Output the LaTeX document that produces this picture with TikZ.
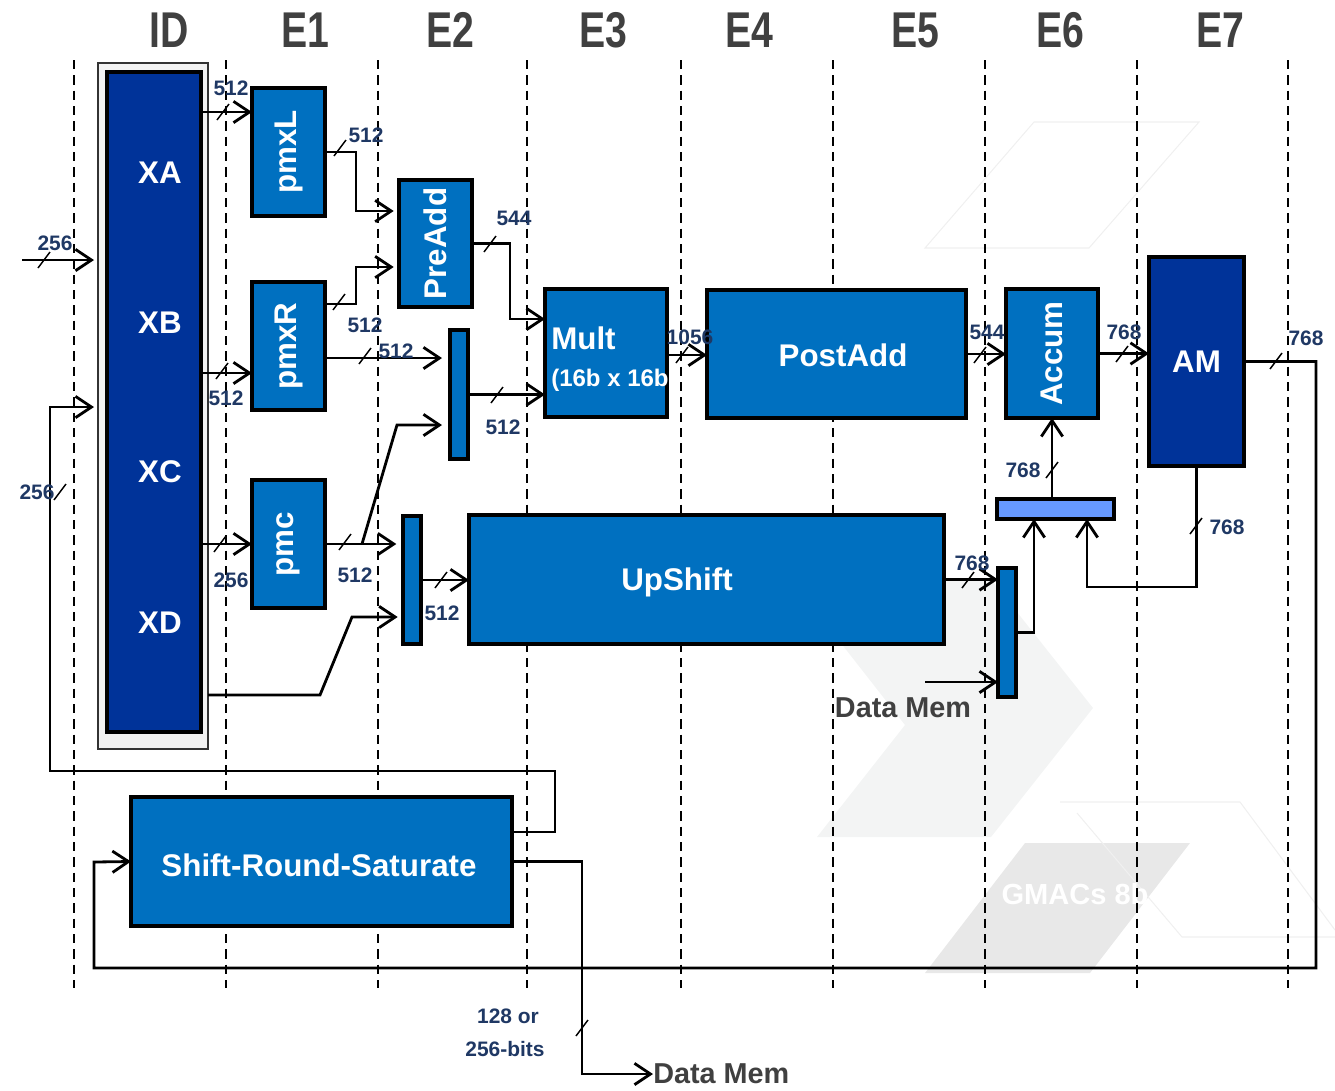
\documentclass[tikz,border=0pt]{standalone}
\usepackage{fontspec}
\setmainfont{Liberation Sans}
\newfontfamily\hdrfont{Liberation Sans}[FakeStretch=0.78]
\usetikzlibrary{arrows.meta}
\definecolor{unitblue}{HTML}{0070C0}
\definecolor{regblue}{HTML}{003399}
\definecolor{sumblue}{HTML}{6699FF}
\definecolor{widthnavy}{HTML}{1F3864}
\definecolor{capgray}{HTML}{404040}
\definecolor{markgray}{HTML}{F3F4F4}
\definecolor{markdark}{HTML}{E8E8E8}
\begin{document}
\begin{tikzpicture}[x=0.75pt,y=-0.75pt,
		stagesep/.style={dash pattern=on 7pt off 4.5pt,line width=1.4pt},
		sz/.style 2 args={minimum width=#1*0.75pt,minimum height=#2*0.75pt},
		unit/.style={draw=black,line width=2.3pt,fill=unitblue,text=white,inner sep=0pt,outer sep=0pt,font=\bfseries\fontsize{23.5}{26}\selectfont},
		bus/.style={line width=2.1pt,-{Straight Barb[length=12pt,width=16pt]}},
		busmark/.style={line width=1.1pt},
		buswd/.style={text=widthnavy,inner sep=0pt,font=\bfseries\fontsize{15.7}{17}\selectfont},
		stage/.style={text=capgray,inner sep=0pt,font=\hdrfont\bfseries\fontsize{37.7}{40}\selectfont},
		memlbl/.style={text=capgray,inner sep=0pt,font=\bfseries\fontsize{21.6}{24}\selectfont},
		reglbl/.style={text=white,inner sep=0pt,font=\bfseries\fontsize{23.5}{26}\selectfont},
		markline/.style={draw=gray!12,line width=0.8pt}]
	\useasboundingbox (0,0) rectangle (1335,1090);
	% faint watermark behind the pipeline
	\fill[markgray] (817,837) -- (991,837) -- (1093,708) -- (990,578) -- (790,578) -- (905,725) -- cycle;
	\fill[markdark] (925,973) -- (1090,973) -- (1190,843) -- (1025,843) -- cycle;
	\draw[markline] (1034,122) -- (1199,122) -- (1089,248) -- (925,248) -- cycle;
	\draw[markline] (1060,802) -- (1240,802) -- (1335,930);
	\draw[markline] (1077,813) -- (1182,937) -- (1335,937);
	\node[text=white,inner sep=0pt,font=\bfseries\fontsize{21.8}{24}\selectfont] (wmark) at (1075,894) {GMACs 8b};
	% pipeline stages
	\foreach \x in {74,226,378,527,681,833,985,1137,1288}
		\draw[stagesep] (\x,60) -- (\x,988);
	\node[stage] (sID) at (169,30) {ID};
	\node[stage] (sE1) at (305,30) {E1};
	\node[stage] (sE2) at (450,30) {E2};
	\node[stage] (sE3) at (603,30) {E3};
	\node[stage] (sE4) at (749,30) {E4};
	\node[stage] (sE5) at (915,30) {E5};
	\node[stage] (sE6) at (1060,30) {E6};
	\node[stage] (sE7) at (1220,30) {E7};
	% register file
	\node[draw=black!80,line width=1pt,fill=black!5,sz={110}{686},inner sep=0pt,outer sep=0pt] (idreg) at (153,406) {};
	\node[unit,fill=regblue,sz={94}{660}] (idbank) at (154,402) {};
	\node[reglbl] (tXA) at (160,173) {XA};
	\node[reglbl] (tXB) at (160,323) {XB};
	\node[reglbl] (tXC) at (160,472) {XC};
	\node[reglbl] (tXD) at (160,623) {XD};
	% units
	\node[unit,sz={73}{128}] (pmxL) at (288.5,152) {\rotatebox{90}{pmxL}};
	\node[unit,sz={73}{128}] (pmxR) at (288.5,346) {\rotatebox{90}{pmxR}};
	\node[unit,sz={73}{128}] (pmc) at (288.5,544) {\rotatebox{90}{pmc}};
	\node[unit,sz={73}{127}] (preadd) at (435.5,243.5) {\rotatebox{90}{PreAdd}};
	\node[unit,sz={18}{129}] (muxa) at (459,394.5) {};
	\node[unit,sz={122}{128}] (mult) at (606,353) {};
	\node[reglbl,anchor=west] (tMult) at (551,338) {Mult};
	\node[reglbl,anchor=west,font=\bfseries\fontsize{18}{20}\selectfont] (tMultB) at (551,380) {(16b x 16b};
	\node[unit,sz={259}{128}] (postadd) at (836.5,354) {};
	\node[reglbl] (tPost) at (843,355) {PostAdd};
	\node[unit,sz={92}{129}] (accum) at (1052,353.5) {\rotatebox{90}{Accum}};
	\node[unit,fill=regblue,sz={95}{209}] (am) at (1196.5,361.5) {AM};
	\node[unit,fill=sumblue,sz={117}{20}] (adder) at (1055.5,509) {};
	\node[unit,sz={18}{128}] (muxb) at (412,580) {};
	\node[unit,sz={475}{129}] (upshift) at (706.5,579.5) {};
	\node[reglbl] (tUp) at (677,582) {UpShift};
	\node[unit,sz={18}{129}] (muxc) at (1007,632.5) {};
	\node[unit,sz={381}{129}] (srs) at (321.5,861.5) {};
	\node[reglbl] (tSrs) at (319,865) {Shift-Round-Saturate};
	\node[memlbl] (dmin) at (903,708) {Data Mem};
	\node[memlbl,anchor=west] (dmout) at (653,1074) {Data Mem};
	\coordinate (inA) at (22,260);
	\coordinate (dmsrc) at (925,682);
	% operand buses
	\draw[bus] (idbank.east |- 0,112) -- (pmxL.west |- 0,112);
	\draw[bus] (idbank.east |- 0,373) -- (pmxR.west |- 0,373);
	\draw[bus] (idbank.east |- pmc.west) -- (pmc.west);
	\draw[bus,shorten >=4pt] (idreg.east |- 0,695) -- (320,695) -- (352,617) -- (muxb.west |- 0,617);
	\draw[bus,shorten >=5pt] (pmc.east) -- (pmc.east -| muxb.west);
	\draw[bus,shorten >=6pt] (362,544) -- (397,425) -- (muxa.west |- 0,425);
	\draw[bus,shorten >=4pt] (pmxL.east) -| (356,211) -- (preadd.west |- 0,211);
	\draw[bus,shorten >=4pt] (pmxR.east |- 0,304) -| (356,267) -- (preadd.west |- 0,267);
	\draw[bus,shorten >=6pt] (pmxR.east |- 0,358) -- (muxa.west |- 0,358);
	\draw[bus] (preadd.east) -| (510,319) -- (mult.west |- 0,319);
	\draw[bus] (muxa.east) -- (muxa.east -| mult.west);
	\draw[bus] (mult.east |- 0,355) -- (postadd.west |- 0,355);
	\draw[bus] (postadd.east) -- (postadd.east -| accum.west);
	\draw[bus] (accum.east) -- (accum.east -| am.west);
	\draw[bus] (accum.south |- adder.north) -- (accum.south);
	\draw[bus] (am.south) |- (1087,587) -- (adder.south -| 1087,0);
	\draw[bus] (muxc.east) -| (adder.south -| 1034,0);
	\draw[bus] (upshift.east) -- (upshift.east -| muxc.west);
	\draw[bus] (dmsrc) -- (dmsrc -| muxc.west);
	\draw[bus] (muxb.east) -- (muxb.east -| upshift.west);
	% inputs and feedback
	\draw[bus,shorten >=3pt] (inA) -- (inA -| idreg.west);
	\draw[bus,shorten >=3pt] (srs.east |- 0,832) -| (555,771) -| (50,407) -- (idreg.west |- 0,407);
	\draw[bus] (am.east) -| (1316,968) -| (94,862) -- (srs.west);
	\draw[bus] (srs.east) -| (582,1074) -- (dmout.west);
	% bus width marks
	\foreach \p in {(223,112),(222,371),(220,544),(345,542),(44,260),(60,492),(340,148),(339,302),(365,356),(490,244),(497,395),(682,355),(980,355),(1122,354),(1276,361),(1052,470),(1196,526),(968,580),(441,580),(582,1028)}
		\draw[busmark] \p ++(-6,8) -- ++(12,-16);
	\node[buswd] (wXA) at (231,88) {512};
	\node[buswd] (wXB) at (226,398) {512};
	\node[buswd] (wXC) at (231,580) {256};
	\node[buswd] (wPmc) at (355,575) {512};
	\node[buswd] (wIn) at (55,243) {256};
	\node[buswd] (wFb) at (37,492) {256};
	\node[buswd] (wPmxL) at (366,135) {512};
	\node[buswd] (wPmxRa) at (365,325) {512};
	\node[buswd] (wPmxRb) at (396,351) {512};
	\node[buswd] (wPre) at (514,218) {544};
	\node[buswd] (wMuxA) at (503,427) {512};
	\node[buswd] (wMult) at (690,337) {1056};
	\node[buswd] (wPost) at (987,332) {544};
	\node[buswd] (wAcc) at (1124,332) {768};
	\node[buswd] (wAM) at (1306,338) {768};
	\node[buswd] (wSum) at (1023,470) {768};
	\node[buswd] (wAMfb) at (1227,527) {768};
	\node[buswd] (wUp) at (972,563) {768};
	\node[buswd] (wMuxB) at (442,613) {512};
	\node[buswd] (wOutA) at (508,1016) {128 or};
	\node[buswd] (wOutB) at (505,1049) {256-bits};
\end{tikzpicture}
\end{document}
